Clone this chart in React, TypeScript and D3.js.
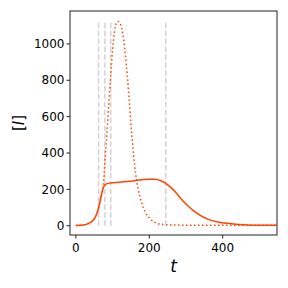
import * as d3 from 'd3'

// ── data ────────────────────────────────────────────────────────────────────
const T_SOLID = [0, 10, 20, 30, 40, 45, 50, 55, 60, 65, 70, 75, 80, 85, 95, 120, 140, 160, 180, 200, 215, 230, 245, 260, 276, 290, 305, 321, 340, 366, 390, 411, 430, 456, 480, 510, 547]
const I_SOLID = [1, 2, 4, 9, 18, 26, 38, 56, 85, 125, 172, 210, 226, 231, 235, 239, 243, 248, 253, 256, 255, 249, 233, 208, 174, 140, 110, 82, 55, 31, 19, 13, 9, 5, 3, 2, 2]

const T_DOT = [0, 10, 20, 30, 40, 45, 50, 55, 60, 65, 70, 75, 80, 85, 90, 95, 100, 105, 110, 115, 120, 125, 130, 135, 140, 145, 150, 155, 160, 165, 170, 175, 180, 188, 195, 201, 210, 220, 230, 245, 270, 300, 350, 450, 547]
const I_DOT = [1, 2, 4, 9, 18, 26, 38, 56, 85, 125, 172, 225, 380, 520, 680, 830, 965, 1065, 1112, 1123, 1115, 1085, 1025, 935, 830, 700, 560, 440, 335, 255, 200, 155, 120, 80, 55, 40, 25, 14, 9, 6, 4, 3, 2.5, 2, 2]

const V_LINES = [62, 79, 95, 245]
const X_TICKS = [0, 200, 400]
const Y_TICKS = [0, 200, 400, 600, 800, 1000]

// ── constants ───────────────────────────────────────────────────────────────
const W = 288, H = 288
const M = { top: 11, right: 11, bottom: 53, left: 70 }
const C_LINE = '#ff4500'
const C_VL   = '#d3d3d3'
const C_AX   = '#222'
const C_TXT  = '#000'
const FONT   = 'DejaVu Sans'

type Pt = [number, number]

export default function App() {
  const iW = W - M.left - M.right
  const iH = H - M.top - M.bottom

  const x = d3.scaleLinear().domain([-16, 548]).range([0, iW])
  const y = d3.scaleLinear().domain([-51, 1181]).range([iH, 0])

  const line = d3.line<Pt>().x(d => x(d[0])).y(d => y(d[1])).curve(d3.curveMonotoneX)
  const solid: Pt[] = T_SOLID.map((t, i) => [t, I_SOLID[i]])
  const dotted: Pt[] = T_DOT.map((t, i) => [t, I_DOT[i]])
  const vTop = d3.max(I_DOT) ?? 0

  return (
    <div style={{ position: 'fixed', left: 0, top: 0, width: W, height: H, background: '#fff' }}>
      <svg width={W} height={H} style={{ display: 'block' }} fontFamily={FONT}>
        <defs>
          <clipPath id="plot-clip">
            <rect width={iW} height={iH} />
          </clipPath>
        </defs>
        <g transform={`translate(${M.left},${M.top})`}>
          {/* vertical markers */}
          {V_LINES.map(v => (
            <line key={v}
              x1={x(v)} x2={x(v)} y1={y(0)} y2={y(vTop)}
              stroke={C_VL} strokeWidth={1.5} strokeDasharray="5.5,2.4" />
          ))}

          <g clipPath="url(#plot-clip)">
            <path d={line(dotted) ?? ''} fill="none" stroke={C_LINE}
              strokeWidth={1.5} strokeDasharray="1.5,2.5" />
            <path d={line(solid) ?? ''} fill="none" stroke={C_LINE}
              strokeWidth={1.5} strokeLinejoin="round" />
          </g>

          {/* frame */}
          <rect x={0} y={0} width={iW} height={iH} fill="none" stroke={C_AX} strokeWidth={1} />

          {/* y ticks */}
          {Y_TICKS.map(v => (
            <g key={v} transform={`translate(0,${y(v)})`}>
              <line x1={-3.5} x2={0} stroke={C_AX} strokeWidth={1} />
              <text x={-5.5} dy="0.35em" textAnchor="end" fontSize={12} fill={C_TXT}>{v}</text>
            </g>
          ))}

          {/* x ticks */}
          {X_TICKS.map(v => (
            <g key={v} transform={`translate(${x(v)},${iH})`}>
              <line y1={0} y2={3.5} stroke={C_AX} strokeWidth={1} />
              <text y={17} textAnchor="middle" fontSize={12} fill={C_TXT}>{v}</text>
            </g>
          ))}

          {/* labels */}
          <text x={iW / 2} y={iH + 37} textAnchor="middle" fontSize={17} fontStyle="italic" fill={C_TXT}>t</text>
          <text transform={`translate(${-46},${iH / 2}) rotate(-90)`} textAnchor="middle" fontSize={15} fill={C_TXT}>
            [<tspan fontStyle="italic">I</tspan>]
          </text>
        </g>
      </svg>
    </div>
  )
}
